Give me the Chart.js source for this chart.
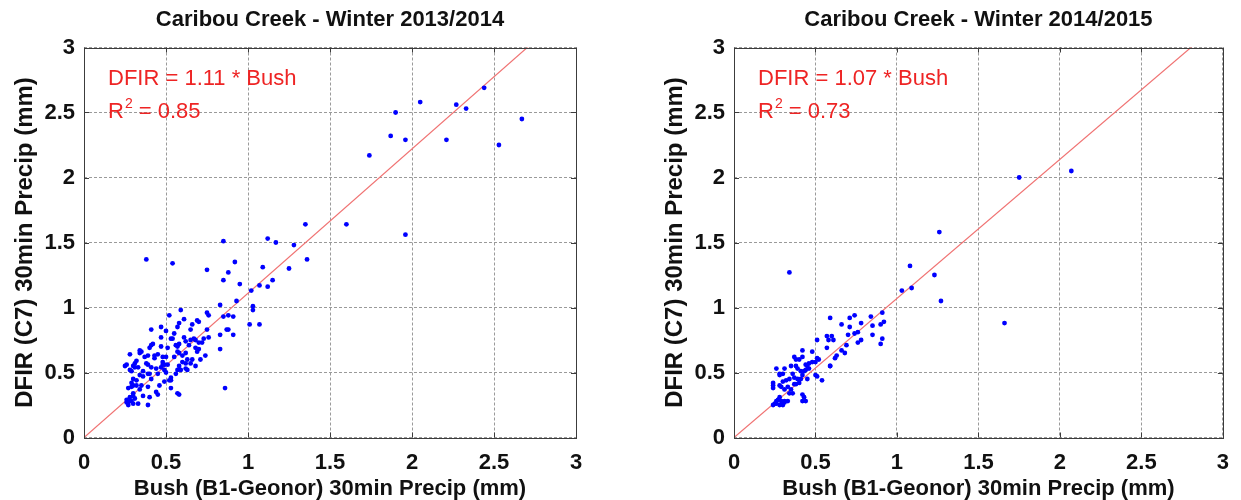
<!DOCTYPE html>
<html>
<head>
<meta charset="utf-8">
<script src="https://cdn.jsdelivr.net/npm/chart.js@4.4.0/dist/chart.umd.min.js"></script>
<style>
  html, body { margin: 0; padding: 0; background: #ffffff; }
  #wrap { position: relative; width: 1241px; height: 500px; overflow: hidden; }
  canvas { position: absolute; top: 0; }
  #left { left: 0; }
  #right { left: 620px; }
</style>
</head>
<body>
<div id="wrap">
  <canvas id="left" width="620" height="500"></canvas>
  <canvas id="right" width="621" height="500"></canvas>
</div>
<script>
// ---- data: 30 min precipitation pairs (mm) ----
const axisTicks = [0, 0.5, 1, 1.5, 2, 2.5, 3];
const tickLabels = ['0', '0.5', '1', '1.5', '2', '2.5', '3'];

// Winter 2013/2014
const bush1314 = [
  1.35, 1.60, 1.96, 2.44, 2.05, 2.27, 2.33, 1.90, 2.67, 1.87, 1.96, 2.21, 2.53, 1.74,
  1.12, 1.17, 0.85, 1.28, 0.38, 0.54, 1.36, 0.92, 1.09, 1.25, 0.75, 0.88, 0.85, 1.15,
  0.95, 1.07, 1.12, 1.02, 0.93, 0.83, 1.03, 1.03, 0.59, 0.52, 0.75, 0.76, 0.91, 0.88,
  0.85, 0.61, 0.58, 0.69, 0.70, 0.66, 1.01, 1.07, 0.41, 0.47, 0.50, 0.75, 0.87, 0.88,
  0.57, 0.65, 0.83, 0.91, 0.53, 0.54, 0.61, 0.62, 0.65, 0.67, 0.68, 0.70, 0.72, 0.73,
  0.76, 0.58, 0.56, 0.57, 0.47, 0.51, 0.42, 0.40, 0.41, 0.34, 0.35, 0.34, 0.28, 0.74,
  0.83, 0.68, 0.70, 0.69, 0.50, 0.55, 0.57, 0.58, 0.60, 0.62, 0.63, 0.45, 0.43, 0.43,
  0.48, 0.48, 0.49, 0.39, 0.37, 0.38, 0.39, 0.32, 0.33, 0.31, 0.31, 0.25, 0.26, 0.30,
  0.28, 0.29, 0.58, 0.62, 0.63, 0.57, 0.59, 0.56, 0.53, 0.53, 0.68, 0.65, 0.60, 0.62,
  0.41, 0.44, 0.45, 0.47, 0.48, 0.49, 0.50, 0.51, 0.36, 0.34, 0.36, 0.39, 0.40, 0.30,
  0.32, 0.29, 0.30, 0.32, 0.29, 0.27, 0.41, 0.46, 0.49, 0.52, 0.39, 0.35, 0.86, 0.53,
  0.57, 0.58, 0.44, 0.45, 0.40, 0.34, 0.36, 0.26, 0.28, 0.29, 0.26, 0.27, 0.30, 0.28,
  0.31, 0.33, 0.39, 0.30, 0.30, 0.64, 0.66, 0.71, 0.55, 0.47
];
const dfir1314 = [
  1.64, 1.64, 1.56, 2.69, 2.58, 2.56, 2.53, 2.50, 2.45, 2.32, 2.29, 2.29, 2.25, 2.17,
  1.53, 1.50, 1.51, 1.48, 1.37, 1.34, 1.37, 1.35, 1.31, 1.30, 1.29, 1.27, 1.21, 1.21,
  1.18, 1.17, 1.16, 1.13, 1.05, 1.02, 1.01, 0.98, 0.98, 0.94, 0.96, 0.94, 0.93, 0.94,
  0.93, 0.91, 0.88, 0.90, 0.89, 0.87, 0.87, 0.87, 0.83, 0.85, 0.82, 0.83, 0.83, 0.83,
  0.85, 0.83, 0.79, 0.79, 0.76, 0.76, 0.77, 0.74, 0.75, 0.76, 0.75, 0.73, 0.73, 0.76,
  0.77, 0.72, 0.71, 0.70, 0.77, 0.69, 0.72, 0.69, 0.71, 0.67, 0.66, 0.65, 0.64, 0.63,
  0.68, 0.69, 0.68, 0.66, 0.62, 0.62, 0.66, 0.65, 0.63, 0.65, 0.60, 0.64, 0.63, 0.61,
  0.62, 0.58, 0.56, 0.63, 0.62, 0.57, 0.56, 0.59, 0.54, 0.54, 0.57, 0.55, 0.56, 0.55,
  0.52, 0.51, 0.55, 0.53, 0.52, 0.52, 0.52, 0.49, 0.46, 0.44, 0.55, 0.57, 0.58, 0.57,
  0.54, 0.53, 0.49, 0.54, 0.56, 0.52, 0.50, 0.56, 0.51, 0.48, 0.47, 0.49, 0.49, 0.45,
  0.44, 0.42, 0.40, 0.40, 0.39, 0.38, 0.45, 0.40, 0.43, 0.44, 0.39, 0.40, 0.38, 0.38,
  0.34, 0.33, 0.35, 0.33, 0.31, 0.37, 0.32, 0.29, 0.28, 0.28, 0.27, 0.25, 0.26, 0.31,
  0.30, 0.26, 0.25, 0.34, 0.32, 0.71, 0.60, 0.60, 0.80, 0.70
];

// Winter 2014/2015
const bush1415 = [
  1.75, 2.07, 1.66, 1.26, 0.34, 1.08, 1.23, 1.03, 1.09, 1.27, 0.91, 0.74, 0.71, 0.84,
  0.59, 0.92, 0.90, 0.85, 0.78, 0.66, 0.71, 0.76, 0.74, 0.70, 0.60, 0.57, 0.51, 0.58,
  0.61, 0.85, 0.91, 0.90, 0.78, 0.76, 0.69, 0.57, 0.66, 0.68, 0.63, 0.62, 0.37, 0.38,
  0.42, 0.40, 0.42, 0.48, 0.51, 0.52, 0.50, 0.48, 0.46, 0.44, 0.45, 0.44, 0.46, 0.43,
  0.38, 0.39, 0.41, 0.35, 0.31, 0.26, 0.59, 0.59, 0.28, 0.28, 0.30, 0.36, 0.37, 0.39,
  0.41, 0.42, 0.40, 0.38, 0.37, 0.45, 0.50, 0.51, 0.54, 0.34, 0.32, 0.30, 0.24, 0.24,
  0.28, 0.29, 0.33, 0.31, 0.24, 0.35, 0.34, 0.36, 0.42, 0.43, 0.42, 0.44, 0.28, 0.27,
  0.29, 0.26, 0.25, 0.28, 0.30, 0.31, 0.33, 0.31, 0.30, 0.24, 0.26
];
const dfir1415 = [
  2.00, 2.05, 0.88, 1.58, 1.27, 1.32, 1.25, 1.13, 1.15, 1.05, 0.96, 0.94, 0.92, 0.93,
  0.92, 0.89, 0.87, 0.86, 0.88, 0.87, 0.85, 0.81, 0.80, 0.79, 0.78, 0.78, 0.75, 0.75,
  0.75, 0.79, 0.76, 0.72, 0.75, 0.73, 0.71, 0.69, 0.67, 0.65, 0.63, 0.61, 0.62, 0.60,
  0.62, 0.60, 0.67, 0.66, 0.61, 0.60, 0.58, 0.58, 0.57, 0.56, 0.55, 0.52, 0.53, 0.51,
  0.55, 0.53, 0.51, 0.55, 0.53, 0.53, 0.55, 0.55, 0.49, 0.48, 0.49, 0.49, 0.46, 0.45,
  0.45, 0.48, 0.42, 0.41, 0.41, 0.45, 0.48, 0.47, 0.44, 0.45, 0.44, 0.43, 0.42, 0.40,
  0.40, 0.39, 0.39, 0.37, 0.38, 0.37, 0.34, 0.34, 0.33, 0.31, 0.28, 0.28, 0.31, 0.29,
  0.28, 0.28, 0.26, 0.25, 0.26, 0.28, 0.28, 0.27, 0.25, 0.25, 0.26
];

const fitSlopes = [1.11, 1.07];
const fitR2 = ['0.85', '0.73'];
const seasonTitles = ['Caribou Creek - Winter 2013/2014', 'Caribou Creek - Winter 2014/2015'];
const fitX = [0, 3];

const FONT = 'Arial, "Liberation Sans", Helvetica, sans-serif';
const RED = '#ee2424';
const BOX = '#3c3c3c';

// caja negra con marcas hacia dentro (estilo MATLAB)
const boxPlugin = {
  id: 'matlabBox',
  afterDraw(chart) {
    const { ctx, chartArea: a, scales: { x, y } } = chart;
    ctx.save();
    ctx.strokeStyle = BOX;
    ctx.lineWidth = 1;
    ctx.setLineDash([]);
    ctx.strokeRect(Math.round(a.left) + 0.5, Math.round(a.top) + 0.5,
      Math.round(a.right - a.left), Math.round(a.bottom - a.top));
    ctx.beginPath();
    axisTicks.forEach(v => {
      const px = Math.round(x.getPixelForValue(v)) + 0.5;
      ctx.moveTo(px, a.bottom); ctx.lineTo(px, a.bottom - 5);
      ctx.moveTo(px, a.top); ctx.lineTo(px, a.top + 5);
      const py = Math.round(y.getPixelForValue(v)) + 0.5;
      ctx.moveTo(a.left, py); ctx.lineTo(a.left + 5, py);
      ctx.moveTo(a.right, py); ctx.lineTo(a.right - 5, py);
    });
    ctx.stroke();
    ctx.restore();
  }
};

// texto de la regresion
const fitTextPlugin = {
  id: 'fitText',
  afterDraw(chart) {
    const { ctx, chartArea: a } = chart;
    const i = chart.options.plugins.fitText.index;
    const x0 = a.left + 24;
    ctx.save();
    ctx.fillStyle = RED;
    ctx.textBaseline = 'alphabetic';
    ctx.textAlign = 'left';
    ctx.font = '22px ' + FONT;
    ctx.fillText('DFIR = ' + fitSlopes[i].toFixed(2) + ' * Bush', x0, a.top + 37);
    const base = a.top + 70;
    ctx.fillText('R', x0, base);
    let w = ctx.measureText('R').width;
    ctx.font = '14px ' + FONT;
    ctx.fillText('2', x0 + w + 1, base - 10);
    w += ctx.measureText('2').width + 1;
    ctx.font = '22px ' + FONT;
    ctx.fillText(' = ' + fitR2[i], x0 + w, base);
    ctx.restore();
  }
};

function tickText(value) {
  const k = axisTicks.indexOf(value);
  return k >= 0 ? tickLabels[k] : '';
}

function buildChart(canvasId, idx, bush, dfir, pad) {
  const pts = bush.map((b, k) => ({ x: b, y: dfir[k] }));
  const fit = fitX.map(v => ({ x: v, y: v * fitSlopes[idx] }));
  return new Chart(document.getElementById(canvasId), {
    type: 'scatter',
    data: {
      datasets: [
        {
          data: pts,
          backgroundColor: '#0000ff',
          borderWidth: 0,
          pointRadius: 2.4,
          pointHoverRadius: 2.4
        },
        {
          type: 'line',
          data: fit,
          borderColor: '#f07272',
          borderWidth: 1.2,
          pointRadius: 0,
          fill: false
        }
      ]
    },
    options: {
      responsive: false,
      animation: false,
      layout: { padding: pad },
      plugins: {
        legend: { display: false },
        tooltip: { enabled: false },
        title: {
          display: true,
          text: seasonTitles[idx],
          color: '#111',
          fullSize: false,
          font: { family: FONT, size: 22, weight: 'bold', lineHeight: 1.2 },
          padding: { top: 7, bottom: 14.1 }
        },
        fitText: { index: idx }
      },
      scales: {
        x: {
          type: 'linear',
          min: 0, max: 3,
          afterFit: s => { s.height = 62.5; },
          afterBuildTicks: s => { s.ticks = axisTicks.map(v => ({ value: v })); },
          ticks: {
            color: '#111',
            padding: 12,
            maxRotation: 0,
            callback: tickText,
            font: { family: FONT, size: 22, weight: 'bold' }
          },
          grid: { color: '#9a9a9a', lineWidth: 1, drawTicks: false },
          border: { display: false, dash: [3, 2] },
          title: {
            display: true,
            text: 'Bush (B1-Geonor) 30min Precip (mm)',
            color: '#111',
            font: { family: FONT, size: 22, weight: 'bold', lineHeight: 1 },
            padding: { top: 0, bottom: 0 }
          }
        },
        y: {
          type: 'linear',
          min: 0, max: 3,
          afterFit: s => { s.width = 84; },
          afterBuildTicks: s => { s.ticks = axisTicks.map(v => ({ value: v })); },
          ticks: {
            color: '#111',
            padding: 9,
            callback: tickText,
            font: { family: FONT, size: 22, weight: 'bold' }
          },
          grid: { color: '#9a9a9a', lineWidth: 1, drawTicks: false },
          border: { display: false, dash: [3, 2] },
          title: {
            display: true,
            text: 'DFIR (C7) 30min Precip (mm)',
            color: '#111',
            font: { family: FONT, size: 24, weight: 'bold', lineHeight: 1 },
            padding: { top: 13, bottom: 0 }
          }
        }
      }
    },
    plugins: [boxPlugin, fitTextPlugin]
  });
}

buildChart('left', 0, bush1314, dfir1314, { left: 0, right: 44, top: 0, bottom: 0 });
buildChart('right', 1, bush1415, dfir1415, { left: 30, right: 15, top: 0, bottom: 0 });
</script>
</body>
</html>
